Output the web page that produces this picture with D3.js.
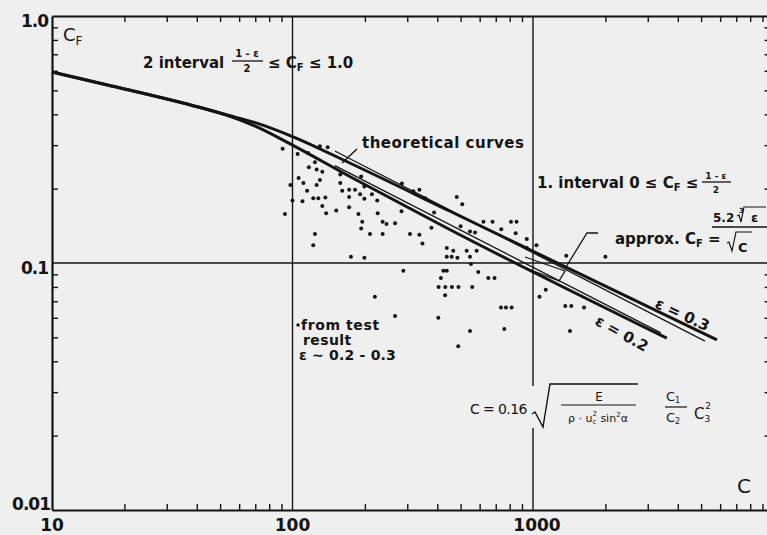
<!DOCTYPE html>
<html><head><meta charset="utf-8">
<script src="https://cdn.jsdelivr.net/npm/d3@7"></script>
<style>
html,body{margin:0;padding:0;background:#efefef;}
svg{display:block;}
text{font-family:"DejaVu Sans",sans-serif;fill:#141414;}
</style></head><body>
<svg id="chart" width="767" height="535"></svg>
<script>
// ---- data ----
const xMajor = [10, 100, 1000];
const xMajorLabels = ["10", "100", "1000"];
const yMajor = [1, 0.1, 0.01];
const yMajorLabels = ["1.0", "0.1", "0.01"];
const xMinor = [20,30,40,50,60,70,80,90,200,300,400,500,600,700,800,900,2000,3000,4000,5000,6000,7000,8000,9000];
const yMinor = [0.02,0.03,0.04,0.05,0.06,0.07,0.08,0.09,0.2,0.3,0.4,0.5,0.6,0.7,0.8,0.9];

// theoretical curves
const theoryE03 = [[10,0.593],[17,0.526],[41,0.427],[52,0.40],[70,0.37],[100,0.325],[173,0.254],[452,0.162],[5820,0.0488]];
const theoryE02 = [[10,0.593],[17,0.526],[41,0.427],[52,0.40],[70,0.358],[100,0.300],[173,0.224],[438,0.1386],[3600,0.0496]];
// approximation lines C_F = 5.2 * cbrt(eps) / sqrt(C)  (end points)
const approxE03 = [[150,0.284],[5190,0.0483]];
const approxE02 = [[150,0.248],[3400,0.0521]];

// test results
const testPoints = [
[91,0.29],[105,0.276],[116,0.279],[124,0.256],[117,0.244],[126,0.239],[133,0.234],[106,0.221],[98,0.207],[130,0.217],
[111,0.211],[126,0.207],[115,0.196],[158,0.228],[158,0.211],[161,0.196],[172,0.198],[182,0.198],[172,0.185],[191,0.19],
[199,0.182],[214,0.19],[199,0.204],[225,0.179],[100,0.179],[110,0.178],[122,0.183],[128,0.183],[137,0.184],[133,0.17],
[138,0.159],[152,0.163],[172,0.168],[188,0.158],[195,0.147],[193,0.138],[210,0.131],[226,0.159],[237,0.147],[237,0.131],
[93,0.158],[124,0.131],[122,0.118],[175,0.106],[199,0.105],[220,0.073],[267,0.061],[289,0.093],[267,0.145],[246,0.144],
[284,0.162],[308,0.131],[337,0.130],[347,0.12],[378,0.139],[388,0.16],[285,0.21],[337,0.198],[482,0.185],[508,0.173],
[622,0.147],[679,0.147],[810,0.147],[854,0.147],[738,0.137],[500,0.141],[547,0.134],[574,0.133],[438,0.115],[466,0.112],
[530,0.112],[583,0.112],[438,0.106],[459,0.106],[485,0.105],[547,0.106],[552,0.099],[424,0.093],[438,0.093],[592,0.092],
[414,0.087],[652,0.087],[692,0.087],[405,0.080],[432,0.080],[460,0.080],[490,0.080],[559,0.080],[431,0.074],[736,0.066],
[772,0.066],[815,0.066],[404,0.060],[547,0.053],[760,0.054],[489,0.046],[942,0.115],[1034,0.118],[1064,0.073],[1130,0.078],
[1362,0.067],[1443,0.067],[1630,0.066],[1425,0.053],[1375,0.107],[2000,0.106],[942,0.125],[847,0.132],[130,0.297],[140,0.294],
[193,0.224],[318,0.195],[356,0.183]
];

// ---- drawing ----
const svg = d3.select("#chart");
const ink = "#141414", bg = "#efefef";
svg.append("rect").attr("width",767).attr("height",535).attr("fill",bg);

const x = d3.scaleLog().domain([10,10000]).range([52, 773.5]);
const y = d3.scaleLog().domain([0.01,1]).range([510, 16]);
const L = x(10), R = x(10000), T = y(1), B = y(0.01);

// grid lines
const grid = svg.append("g").attr("stroke",ink).attr("stroke-width",1.4);
[100,1000].forEach(v => grid.append("line").attr("x1",x(v)).attr("x2",x(v)).attr("y1",T).attr("y2",B));
grid.append("line").attr("x1",L).attr("x2",R).attr("y1",y(0.1)).attr("y2",y(0.1));

// axes with inward minor ticks
const noLab = () => "";
svg.append("g").attr("transform",`translate(0,${B})`)
  .call(d3.axisBottom(x).tickValues(xMinor).tickSize(-6).tickSizeOuter(0).tickFormat(noLab));
svg.append("g").attr("transform",`translate(0,${T})`)
  .call(d3.axisTop(x).tickValues(xMinor).tickSize(-6).tickSizeOuter(0).tickFormat(noLab));
svg.append("g").attr("transform",`translate(${L},0)`)
  .call(d3.axisLeft(y).tickValues(yMinor).tickSize(-6).tickSizeOuter(0).tickFormat(noLab));
svg.append("g").attr("transform",`translate(${R},0)`)
  .call(d3.axisRight(y).tickValues(yMinor).tickSize(-9).tickSizeOuter(0).tickFormat(noLab));
svg.selectAll(".domain").attr("stroke",ink).attr("stroke-width",2.2);
svg.selectAll(".tick line").attr("stroke",ink).attr("stroke-width",1.4);

// major labels
svg.append("g").selectAll("text").data(xMajor).join("text")
  .attr("x",(d,i)=> x(d) + (i===2?4:0)).attr("y",531)
  .attr("text-anchor","middle").attr("font-size",17).attr("font-weight","bold")
  .text((d,i)=>xMajorLabels[i]);
const yLabY = [27, 274, 510];
svg.append("g").selectAll("text").data(yMajor).join("text")
  .attr("x",(d,i)=> i===2 ? 50 : 48).attr("y",(d,i)=>yLabY[i])
  .attr("text-anchor","end").attr("font-size",17).attr("font-weight","bold")
  .attr("letter-spacing",-1)
  .text((d,i)=>yMajorLabels[i]);

// curves
const line = d3.line().x(d=>x(d[0])).y(d=>y(d[1])).curve(d3.curveMonotoneX);
svg.append("path").datum(theoryE02).attr("d",line).attr("fill","none").attr("stroke",ink).attr("stroke-width",3);
svg.append("path").datum(theoryE03).attr("d",line).attr("fill","none").attr("stroke",ink).attr("stroke-width",3);
const sline = d3.line().x(d=>x(d[0])).y(d=>y(d[1]));
[approxE03, approxE02].forEach(a => {
  svg.append("path").datum(a).attr("d",sline).attr("fill","none").attr("stroke",ink)
    .attr("stroke-width",1.3);
});

// test points
svg.append("g").selectAll("circle").data(testPoints).join("circle")
  .attr("cx",d=>x(d[0])).attr("cy",d=>y(d[1])).attr("r",2).attr("fill",ink);

// ---- annotations ----
function txt(xp, yp, size, weight){
  return svg.append("text").attr("x",xp).attr("y",yp).attr("font-size",size).attr("font-weight",weight||"normal");
}
const W = "bold";
// C_F axis title
let t = txt(63, 41, 18, "normal"); t.text("C"); t.append("tspan").attr("font-size",12).attr("dy",4).text("F");
// x axis title
txt(737, 493, 20, "normal").text("C");

// 2 interval
txt(143, 68, 15, W).text("2 interval");
txt(247, 57, 10, W).attr("text-anchor","middle").text("1 - ε");
svg.append("line").attr("x1",232).attr("x2",263).attr("y1",61).attr("y2",61).attr("stroke",ink).attr("stroke-width",1.3);
txt(247, 72, 10, W).attr("text-anchor","middle").text("2");
t = txt(268, 68, 15, W); t.text("≤ C"); t.append("tspan").attr("font-size",10).attr("dy",3).text("F");
t.append("tspan").attr("dy",-3).text(" ≤ 1.0");

// theoretical curves
txt(362, 148, 15, W).attr("letter-spacing",0.5).text("theoretical curves");
svg.append("line").attr("x1",357).attr("y1",149).attr("x2",342).attr("y2",163).attr("stroke",ink).attr("stroke-width",1.4);

// 1. interval
t = txt(537, 188, 15, W); t.text("1. interval 0 ≤ C");
t.append("tspan").attr("font-size",10).attr("dy",3).text("F");
t.append("tspan").attr("dy",-3).text(" ≤");
txt(716, 179, 9, W).attr("text-anchor","middle").text("1 - ε");
svg.append("line").attr("x1",702).attr("x2",731).attr("y1",182).attr("y2",182).attr("stroke",ink).attr("stroke-width",1.3);
txt(716, 193, 9, W).attr("text-anchor","middle").text("2");

// approx
t = txt(615, 244, 15, W); t.text("approx. C");
t.append("tspan").attr("font-size",10).attr("dy",3).text("F");
t.append("tspan").attr("dy",-3).text(" =");
txt(713, 222, 12, W).text("5.2");
txt(739, 213, 7, W).text("3");
svg.append("path").attr("d","M737,216 l2,-1 l2,7 l3,-15 h22").attr("fill","none").attr("stroke",ink).attr("stroke-width",1.2);
txt(751, 222, 13, W).text("ε");
svg.append("line").attr("x1",712).attr("x2",767).attr("y1",227).attr("y2",227).attr("stroke",ink).attr("stroke-width",1.3);
svg.append("path").attr("d","M727,243 l2,-1 l3,9 l4,-19 h16").attr("fill","none").attr("stroke",ink).attr("stroke-width",1.2);
txt(738, 252, 13, W).text("C");
// leader and box
svg.append("path").attr("d","M598,233 H587 L566,267").attr("fill","none").attr("stroke",ink).attr("stroke-width",1.3);
svg.append("path").attr("d","M525,257 L565,271 L559,281 L521,266").attr("fill","none").attr("stroke",ink).attr("stroke-width",1.3);

// epsilon labels
txt(0,0,15,W).attr("transform","translate(654,307) rotate(25)").text("ε = 0.3");
txt(0,0,15,W).attr("transform","translate(594,324) rotate(29)").text("ε = 0.2");

// from test result
svg.append("circle").attr("cx",298).attr("cy",325).attr("r",1.7).attr("fill",ink);
txt(301, 330, 14, W).attr("letter-spacing",0.6).text("from test");
txt(303, 345, 14, W).attr("letter-spacing",0.4).text("result");
txt(299, 360, 14, W).attr("letter-spacing",0.2).text("ε ~ 0.2 - 0.3");

// formula C = 0.16 sqrt(...)
svg.append("rect").attr("x",527).attr("y",386).attr("width",14).attr("height",42).attr("fill",bg);
txt(470, 414, 14, "normal").attr("letter-spacing",-0.6).text("C = 0.16");
svg.append("path").attr("d","M532,414 l3,-2 l8,15 l7,-43 h88").attr("fill","none").attr("stroke",ink).attr("stroke-width",1.4);
txt(599, 401, 12, "normal").attr("text-anchor","middle").text("E");
svg.append("line").attr("x1",561).attr("x2",636).attr("y1",405).attr("y2",405).attr("stroke",ink).attr("stroke-width",1.2);
t = txt(598, 422, 11, "normal").attr("text-anchor","middle");
t.append("tspan").text("ρ · u");
t.append("tspan").attr("font-size",7).attr("dy",2).text("c");
t.append("tspan").attr("font-size",7).attr("dx",-4).attr("dy",-8).text("2");
t.append("tspan").attr("dy",6).text(" sin");
t.append("tspan").attr("font-size",7).attr("dy",-5).text("2");
t.append("tspan").attr("dy",5).text("α");
t = txt(666, 401, 13, "normal"); t.text("C"); t.append("tspan").attr("font-size",8).attr("dy",2).text("1");
svg.append("line").attr("x1",665).attr("x2",687).attr("y1",407).attr("y2",407).attr("stroke",ink).attr("stroke-width",1.2);
t = txt(666, 422, 13, "normal"); t.text("C"); t.append("tspan").attr("font-size",8).attr("dy",2).text("2");
t = txt(694, 419, 15, "normal"); t.text("C");
t.append("tspan").attr("font-size",9).attr("dy",3).text("3");
t.append("tspan").attr("font-size",9).attr("dx",-5).attr("dy",-13).text("2");
</script>
</body></html>
